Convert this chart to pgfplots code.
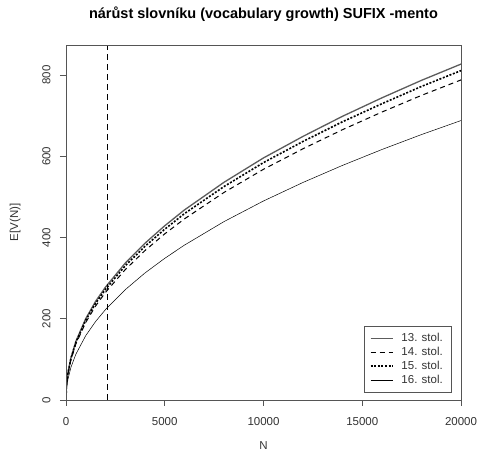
\documentclass[border=0pt]{standalone}
\usepackage{fontspec}
\setmainfont{Liberation Sans}
\usepackage{pgfplots}
\pgfplotsset{compat=1.18}
\definecolor{boxGrey}{HTML}{555555}
\definecolor{textGrey}{HTML}{333333}
\definecolor{lineGrey}{HTML}{5c5c5c}

\begin{document}
\begin{tikzpicture}
\useasboundingbox (0pt,0pt) rectangle (477pt,455pt);
\begin{axis}[
  at={(66pt,55pt)}, anchor=south west,
  width=395pt, height=355pt, scale only axis,
  xmin=0, xmax=20000, ymin=0, ymax=874,
  xtick={0,5000,10000,15000,20000},
  ytick={0,200,400,600,800},
  scaled x ticks=false, scaled y ticks=false,
  /pgf/number format/set thousands separator={},
  /pgf/number format/assume math mode=true,
  tick align=outside, tick pos=left,
  major tick length=6pt,
  xticklabel shift=8pt, yticklabel shift=6pt,
  axis line style={boxGrey,line width=0.7pt},
  tick style={boxGrey,line width=0.7pt},
  ticklabel style={font=\fontsize{11.5}{13}\selectfont,color=textGrey},
  yticklabel style={rotate=90,anchor=south},
  title={nárůst slovníku (vocabulary growth) SUFIX -mento},
  title style={font=\fontsize{14.5}{16}\selectfont\bfseries,at={(axis description cs:0.5,1.07)},anchor=center},
  xlabel={N},
  ylabel={E[V(N)]},
  label style={font=\fontsize{11.5}{13}\selectfont,color=textGrey},
  xlabel style={at={(axis description cs:0.5,-0.127)},anchor=center},
  ylabel style={at={(axis description cs:-0.129,0.5)},anchor=center},
  legend style={at={(axis description cs:0.9747,0.0225)},anchor=south east,
    draw=boxGrey,font=\fontsize{11.5}{13}\selectfont,
    text=textGrey,inner xsep=6pt,inner ysep=5pt,row sep=0pt},
  legend cell align={left},
  legend image code/.code={\draw[#1] (0pt,0pt) -- (22pt,0pt); \path (28pt,0pt);},
]
% 13. stol.
\addplot[lineGrey,line width=1.3pt] coordinates {
  (0,0) (20,31.5) (50,48.6) (100,67.5) (250,104) (500,144.5) (1000,200.5)
  (1500,243) (2000,278) (3000,337) (4000,386) (5000,429) (6000,468)
  (8000,536) (10000,596) (12000,649) (14000,698.5) (16000,744)
  (18000,787) (20000,827)
};
\addlegendentry{13. stol.}
% 14. stol.
\addplot[black,line width=1pt,dash pattern=on 5pt off 4pt] coordinates {
  (0,0) (20,30) (50,46.3) (100,64) (250,99) (500,138) (1000,191)
  (1500,231.5) (2000,265) (3000,321) (4000,368) (5000,409) (6000,446)
  (8000,511) (10000,568) (12000,618.5) (14000,665.5) (16000,709)
  (18000,750) (20000,788)
};
\addlegendentry{14. stol.}
% 15. stol.
\addplot[black,line width=1.6pt,dash pattern=on 2pt off 1.6pt] coordinates {
  (0,0) (20,31) (50,47.6) (100,66) (250,102) (500,141.5) (1000,196.5)
  (1500,238) (2000,272.5) (3000,330.5) (4000,378.5) (5000,420.5) (6000,459)
  (8000,525.5) (10000,584.5) (12000,636.5) (14000,685) (16000,729.5)
  (18000,772) (20000,811)
};
\addlegendentry{15. stol.}
% 16. stol.
\addplot[black,line width=0.5pt] coordinates {
  (0,0) (20,23.3) (50,36.5) (100,51.3) (250,80.4) (500,112.8) (1000,158.5)
  (1500,193.4) (2000,222.6) (3000,271.6) (4000,312.8) (5000,348.8) (6000,381.4)
  (8000,439.2) (10000,490) (12000,535.6) (14000,577.6) (16000,616.8)
  (18000,653.5) (20000,688)
};
\addlegendentry{16. stol.}
% vertical marker
\addplot[black,line width=1pt,dash pattern=on 6pt off 4pt,forget plot] coordinates {
  (2100,0) (2100,874)
};
% box
\draw[boxGrey,line width=0.7pt] (rel axis cs:0,0) rectangle (rel axis cs:1,1);
\end{axis}
\end{tikzpicture}
\end{document}
